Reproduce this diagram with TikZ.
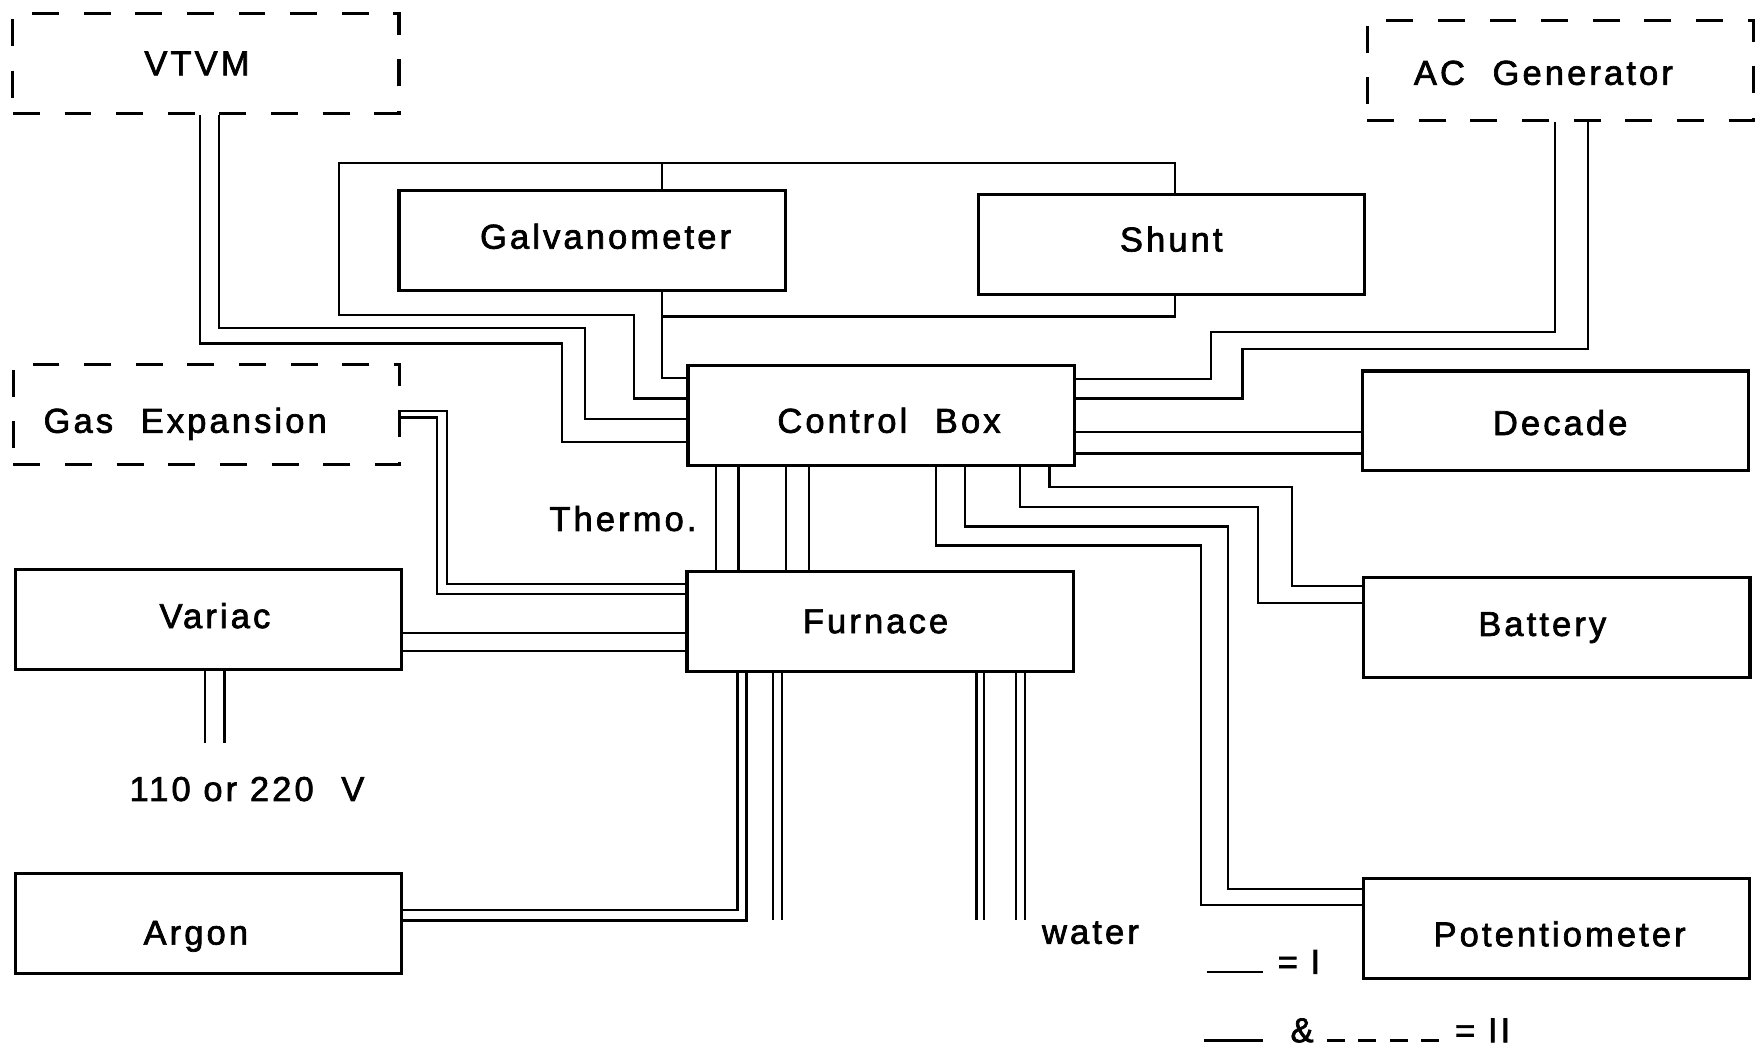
\documentclass[tikz,border=0pt]{standalone}
\usepackage{fontspec}
\setmainfont{Liberation Sans}[LetterSpace=9, FakeBold=2]
\newcommand\wgap{\hspace{0.8em}}
\newcommand\nudged[3]{\raisebox{#2}{\hspace*{#1}#3\hspace*{-#1}}}

\begin{document}
\begin{tikzpicture}
[
x = 0.2mm, y = -0.2mm,
unit/.style = {draw, line width=1.6pt, minimum width=68.8mm, minimum height=17.8mm, inner sep=0pt,
    text height=12pt, text depth=0pt, font=\fontsize{17.5pt}{21pt}\selectfont},
extunit/.style = {unit, dash pattern=on 4.8mm off 4.4mm},
wire/.style = {line width=1.1pt},
note/.style = {inner sep=0pt, font=\fontsize{17.5pt}{21pt}\selectfont}
]
\useasboundingbox (0,0) rectangle (1568,935);

% units
\node [extunit] (vtvm) at (183.5,56.5) {\nudged{-1.6mm}{0mm}{VTVM}};
\node [extunit] (acgen) at (1390,62.5) {\nudged{-3mm}{-0.5mm}{AC\wgap Generator}};
\node [unit] (galvo) at (527.5,214) {\nudged{2.4mm}{0.6mm}{Galvanometer}};
\node [unit] (shunt) at (1043.5,217.5) {\nudged{0mm}{0.8mm}{Shunt}};
\node [unit] (cbox) at (785,370) {\nudged{1.4mm}{-1mm}{Control\wgap Box}};
\node [extunit] (gasexp) at (184,369) {\nudged{-3.8mm}{-1.2mm}{Gas\wgap Expansion}};
\node [unit] (decade) at (1386,375) {\nudged{0.8mm}{-0.4mm}{Decade}};
\node [unit] (variac) at (185.5,552) {\nudged{1.2mm}{0.6mm}{Variac}};
\node [unit] (furnace) at (784,553.5) {\nudged{-0.8mm}{0mm}{Furnace}};
\node [unit] (battery) at (1387,559) {\nudged{-2.6mm}{0.6mm}{Battery}};
\node [unit] (argon) at (185.5,822.5) {\nudged{-2.2mm}{-1.7mm}{Argon}};
\node [unit] (potmeter) at (1386.5,827.5) {\nudged{0.6mm}{-1mm}{Potentiometer}};

% free ends
\coordinate (mains) at (191,662);
\coordinate (water) at (890,820);

% VTVM
\draw [wire] (178,0 |- vtvm.south) |- (501,306) |- (cbox.west |- 0,394);
\draw [wire] (195,0 |- vtvm.south) |- (521,292) |- (cbox.west |- 0,373);

% galvanometer and shunt
\draw [wire] (cbox.west |- 0,355) -| (565,281) -| (302,145) -| (1047,0 |- shunt.north);
\draw [wire] (590,145) -- (590,0 |- galvo.north);
\draw [wire] (590,0 |- galvo.south) |- (cbox.west |- 0,337);
\draw [wire] (590,282) -| (1047,0 |- shunt.south);

% AC generator
\draw [wire] (1385,0 |- acgen.south) |- (1079,296) |- (cbox.east |- 0,338);
\draw [wire] (1415,0 |- acgen.south) |- (1107,311) |- (cbox.east |- 0,355);

% decade
\draw [wire] (cbox.east |- 0,385) -- (decade.west |- 0,385);
\draw [wire] (cbox.east |- 0,404) -- (decade.west |- 0,404);

% battery and potentiometer
\draw [wire] (935,0 |- cbox.south) |- (1151,434) |- (battery.west |- 0,522);
\draw [wire] (909,0 |- cbox.south) |- (1121,452) |- (battery.west |- 0,537);
\draw [wire] (860,0 |- cbox.south) |- (1094,469) |- (potmeter.west |- 0,792);
\draw [wire] (834,0 |- cbox.south) |- (1070,486) |- (potmeter.west |- 0,806);

% thermo
\foreach \x in {638,658,700,721}
    \draw [wire] (\x,0 |- cbox.south) -- (\x,0 |- furnace.north);

% gas expansion
\draw [wire] (gasexp.east |- 0,366) -| (398,520) -- (furnace.west |- 0,520);
\draw [wire] (gasexp.east |- 0,372) -| (389,529) -- (furnace.west |- 0,529);

% variac
\draw [wire] (variac.east |- 0,564) -- (furnace.west |- 0,564);
\draw [wire] (variac.east |- 0,580) -- (furnace.west |- 0,580);
\draw [wire] (183,0 |- variac.south) -- (183,0 |- mains);
\draw [wire] (200,0 |- variac.south) -- (200,0 |- mains);

% argon
\draw [wire] (argon.east |- 0,811) -| (657,0 |- furnace.south);
\draw [wire] (argon.east |- 0,820) -| (665,0 |- furnace.south);

% water and open leads
\foreach \x in {689,697,870,877,905,913}
    \draw [wire] (\x,0 |- furnace.south) -- (\x,0 |- water);

% labels
\node [note] (thermo) at (555,462) {Thermo.};
\node [note] (supply) at (220,703) {110 or 220\wgap V};
\node [note, anchor=west] (waterlbl) at (928,831) {water};

% key
\draw [wire] (1075,866) -- (1125,866);
\node [note, anchor=west] (keyone) at (1138,857) {= I};
\draw [wire] (1073,927) -- (1125,927);
\node [note] (keyand) at (1160,918) {\&};
\draw [wire, dash pattern=on 3.2mm off 2.4mm] (1182,927) -- (1282,927);
\node [note, anchor=west] (keytwo) at (1296,918) {= II};
\end{tikzpicture}
\end{document}
